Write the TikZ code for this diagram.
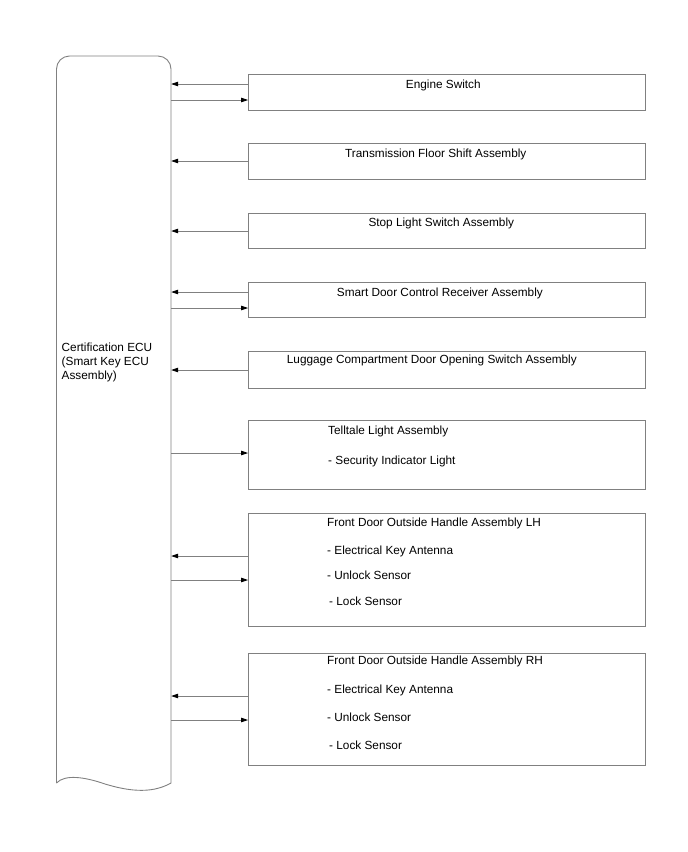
\documentclass[tikz,border=0pt]{standalone}
\usepackage{fontspec}
\setmainfont{Liberation Sans}
\usetikzlibrary{arrows.meta}
\begin{document}
\begin{tikzpicture}[x=1pt,y=-1pt,
  linec/.style={draw=black!50, line width=0.9pt},
  box/.style={linec, rectangle, inner sep=0pt, minimum width=397pt},
  lbl/.style={anchor=base west, inner sep=0pt, font=\fontsize{11.8}{14}\selectfont},
  arr/.style={draw=black!50, line width=0.8pt, -{Triangle[length=7pt,width=4.5pt,color=black,fill=black]}}]
\useasboundingbox (0,0) rectangle (688,852);
% ECU
\draw[linec] (56.5,783) [rounded corners=13pt] -- (56.5,56) -- (171,56) [sharp corners] -- (171,783)
  .. controls (150,795) and (125,790) .. (105,784)
  .. controls (85,777) and (65,774) .. (56.5,783);
\node[inner sep=0pt, minimum width=114.5pt, minimum height=727pt] (ecu) at (113.75,419.5) {};
\node[anchor=north west, inner sep=0pt, align=left, font=\fontsize{11.8}{14}\selectfont] (ecut) at (61.5,342.5) {Certification ECU\\(Smart Key ECU\\Assembly)};
% boxes
\node[box, minimum height=36pt] (b1) at (447,92) {};
\node[box, minimum height=35.5pt] (b2) at (447,161.5) {};
\node[box, minimum height=35pt] (b3) at (447,230.8) {};
\node[box, minimum height=35pt] (b4) at (447,300.2) {};
\node[box, minimum height=37pt] (b5) at (447,369.5) {};
\node[box, minimum height=68.5pt] (b6) at (447,455) {};
\node[box, minimum height=113pt] (b7) at (447,569.5) {};
\node[box, minimum height=112pt] (b8) at (447,709) {};
% texts
\node[lbl] (t1) at (405.7,88) {Engine Switch};
\node[lbl] (t2) at (345,157.5) {Transmission Floor Shift Assembly};
\node[lbl] (t3) at (368.3,226.5) {Stop Light Switch Assembly};
\node[lbl] (t4) at (336.7,296.5) {Smart Door Control Receiver Assembly};
\node[lbl] (t5) at (286.7,363) {Luggage Compartment Door Opening Switch Assembly};
\node[lbl] (t6) at (328,434.5) {Telltale Light Assembly};
\node[lbl] (t6a) at (328,464.5) {- Security Indicator Light};
\node[lbl] (t7) at (327,526.5) {Front Door Outside Handle Assembly LH};
\node[lbl] (t7a) at (327,554) {- Electrical Key Antenna};
\node[lbl] (t7b) at (327,579) {- Unlock Sensor};
\node[lbl] (t7c) at (329,605.5) {- Lock Sensor};
\node[lbl] (t8) at (327,664.5) {Front Door Outside Handle Assembly RH};
\node[lbl] (t8a) at (327,693) {- Electrical Key Antenna};
\node[lbl] (t8b) at (327,721) {- Unlock Sensor};
\node[lbl] (t8c) at (329,749) {- Lock Sensor};
% connectors
\draw[arr] (b1.west |- 0,84) -- (ecu.east |- 0,84);
\draw[arr] (ecu.east |- 0,100) -- (b1.west |- 0,100);
\draw[arr] (b2.west |- 0,161) -- (ecu.east |- 0,161);
\draw[arr] (b3.west |- 0,231) -- (ecu.east |- 0,231);
\draw[arr] (b4.west |- 0,292) -- (ecu.east |- 0,292);
\draw[arr] (ecu.east |- 0,308) -- (b4.west |- 0,308);
\draw[arr] (b5.west |- 0,370) -- (ecu.east |- 0,370);
\draw[arr] (ecu.east |- 0,453) -- (b6.west |- 0,453);
\draw[arr] (b7.west |- 0,556) -- (ecu.east |- 0,556);
\draw[arr] (ecu.east |- 0,580) -- (b7.west |- 0,580);
\draw[arr] (b8.west |- 0,696) -- (ecu.east |- 0,696);
\draw[arr] (ecu.east |- 0,720) -- (b8.west |- 0,720);
\end{tikzpicture}
\end{document}
